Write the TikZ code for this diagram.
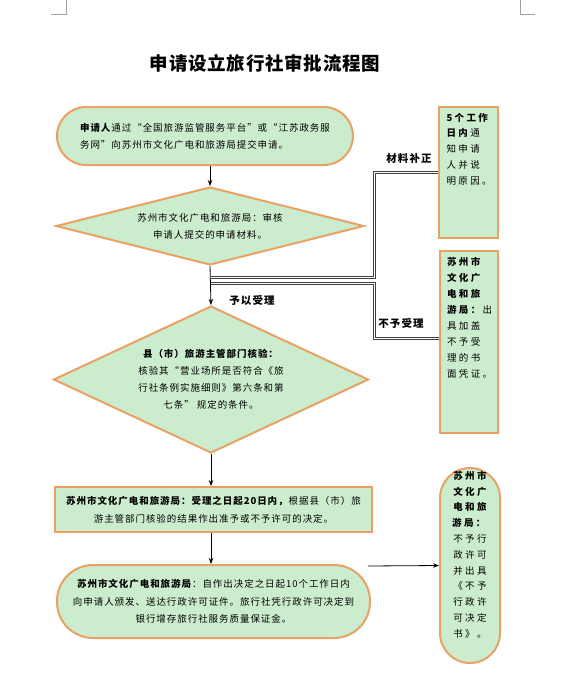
\documentclass[tikz,border=0pt]{standalone}
\usepackage{fontspec}
\setmainfont{Noto Sans CJK SC}[LetterSpace=10]
\newfontfamily\widecjk{Noto Sans CJK SC}[LetterSpace=25]
\newfontfamily\titlecjk{Noto Sans CJK SC}[LetterSpace=4]
\usetikzlibrary{shapes.geometric,arrows.meta}
\definecolor{fillg}{RGB}{204,236,206}
\definecolor{bord}{RGB}{233,162,100}
\definecolor{marks}{RGB}{160,160,160}
\tikzset{
  shp/.style={draw=bord, line width=2pt, fill=fillg, inner sep=0pt, text=black},
  stad/.style={shp, rectangle},
  dia/.style={shp, diamond},
  arr/.style={draw=black, line width=0.8pt, -{Stealth[length=6pt,width=4.5pt]}},
  dline/.style={draw=black!75, line width=1pt, double=white, double distance=1pt},
  lab/.style={font=\fontsize{10.5}{12}\selectfont\bfseries, inner sep=1pt},
  cornermark/.style={draw=marks, line width=0.6pt}
}
\begin{document}
\begin{tikzpicture}[x=1pt,y=-1pt]
\fill[white] (0,0) rectangle (585,675);
\useasboundingbox (0,0) rectangle (585,675);
% page corner marks
\draw[cornermark] (66,0) -- (66,14) -- (51,14);
\draw[cornermark] (520,0) -- (520,14) -- (535,14);
% title
\node[font=\titlecjk\fontsize{18.5}{19}\selectfont\bfseries] (title) at (265,63) {申请设立旅行社审批流程图};
% node 1
\node[stad, rounded corners=29pt, minimum width=296pt, minimum height=58pt,
      align=left, font=\fontsize{9.5}{17}\selectfont] (n1) at (205,136)
 {\textbf{申请人}通过“全国旅游监管服务平台”或“江苏政务服\\务网”向苏州市文化广电和旅游局提交申请。};
% diamond 1
\node[dia, aspect=4, minimum width=308pt, minimum height=78pt,
      align=center, font=\fontsize{9.5}{17}\selectfont] (d1) at (210,226)
 {苏州市文化广电和旅游局：审核\\申请人提交的申请材料。};
% diamond 2
\node[dia, aspect=2.1, minimum width=315pt, minimum height=147pt,
      align=center, font=\fontsize{9.5}{17}\selectfont] (d2) at (211,379.5)
 {\textbf{县（市）旅游主管部门核验：}\\核验其“营业场所是否符合《旅\\行社条例实施细则》第六条和第\\七条” 规定的条件。};
% rect 3
\node[stad, minimum width=317pt, minimum height=45pt,
      align=center, font=\fontsize{9.5}{18}\selectfont] (r3) at (213.5,509.5)
 {\textbf{苏州市文化广电和旅游局：受理之日起20日内，}根据县（市）旅\\游主管部门核验的结果作出准予或不予许可的决定。};
% node 4
\node[stad, rounded corners=36pt, minimum width=313pt, minimum height=73pt,
      align=center, font=\fontsize{9.5}{17.5}\selectfont] (n4) at (213.5,601.5)
 {\textbf{苏州市文化广电和旅游局}：自作出决定之日起10个工作日内\\向申请人颁发、送达行政许可证件。旅行社凭行政许可决定到\\银行增存旅行社服务质量保证金。};
% right box 1
\node[stad, minimum width=59pt, minimum height=131pt] (b1) at (468.5,172.5)
 {\parbox[c][119pt][t]{44pt}{\widecjk\fontsize{9.5}{15.8}\selectfont\raggedright
  \textbf{5个工作\\日内}通\\知申请\\人并说\\明原因。}};
% right box 2
\node[stad, minimum width=58pt, minimum height=182pt] (b2) at (469,342)
 {\parbox[c][170pt][t]{44pt}{\widecjk\fontsize{9.5}{16}\selectfont\raggedright
  \textbf{苏州市\\文化广\\电和旅\\游局：}出\\具加盖\\不予受\\理的书\\面凭证。}};
% right node 5
\node[stad, rounded corners=30pt, minimum width=60pt, minimum height=195pt] (n5) at (470,565.5)
 {\parbox[c][189pt][t]{50pt}{\widecjk\fontsize{9.5}{15.8}\selectfont\centering
  \textbf{苏州市\\文化广\\电和旅\\游局：}\\不予行\\政许可\\并出具\\《不予\\行政许\\可决定\\书》。}};
% connectors
\draw[arr] (n1.south -| d1.north) -- (d1.north);
\draw[arr] (d1.south) -- (d2.north);
\draw[arr] (d2.south) -- (d2.south |- r3.north);
\draw[arr] (r3.south -| d2.south) -- (n4.north -| d2.south);
\coordinate (j1) at (211,277);
\coordinate (j2) at (211,283);
\draw[dline] (j1) -- ++(163,0) |- (b1.west);
\draw[dline] (j2) -- ++(163,0) |- ([yshift=4pt]b2.west);
\coordinate (a5) at (368,566);
\draw[arr] (a5) -- (n5.west);
% labels
\node[lab] (l1) at (409,158) {材料补正};
\node[lab] (l2) at (401,323) {不予受理};
\node[lab] (l3) at (252,300) {予以受理};
\end{tikzpicture}
\end{document}
